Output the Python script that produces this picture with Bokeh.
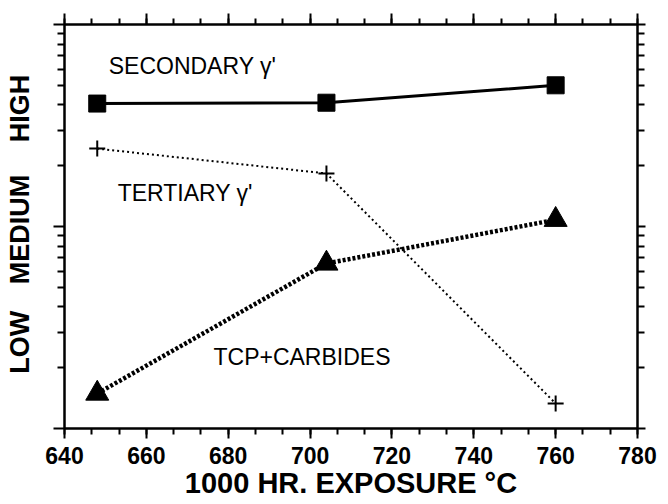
import math
from bokeh.plotting import figure
from bokeh.models import (LinearAxis, LogAxis, FixedTicker, SingleIntervalTicker,
                          CustomJSTickFormatter)
from bokeh.core.properties import value
from bokeh.embed import file_html
from bokeh.resources import INLINE

# ---- data ----
temps = [648, 704, 760]
secondary = [40.6, 41.0, 50.0]
tertiary = [24.3, 18.3, 1.33]
tcp = [1.49, 6.56, 10.8]

level_names = ["LOW", "MEDIUM", "HIGH"]
level_pos = [2.67, 9.67, 38.4]

label_text = ["SECONDARY \u03b3'", "TERTIARY \u03b3'", "TCP+CARBIDES"]
label_x = [650.8, 653.0, 676.4]
label_y = [62.0, 14.6, 2.27]

x_major = 20
y_major = [1, 10, 100]
y_minor = [m * 10 ** e for e in (0, 1) for m in range(2, 10)]

FONT = "Liberation Sans"

p = figure(width=668, height=504, x_range=(640, 780), y_range=(1, 100),
           y_axis_type="log", output_backend="svg", toolbar_location=None,
           min_border_left=64, min_border_top=24, min_border_right=31,
           min_border_bottom=76)
p.grid.visible = False
p.outline_line_color = "black"
p.outline_line_width = 2
p.background_fill_color = "white"

xt = SingleIntervalTicker(interval=x_major, num_minor_ticks=3)
yt = FixedTicker(ticks=y_major, minor_ticks=y_minor)
blank = CustomJSTickFormatter(code="return ''")


def style(ax, major_out, minor_out):
    ax.axis_line_width = 2
    ax.axis_line_color = "black"
    ax.major_tick_line_width = 2
    ax.minor_tick_line_width = 2
    ax.major_tick_line_color = "black"
    ax.minor_tick_line_color = "black"
    ax.major_tick_in = 0
    ax.minor_tick_in = 0
    ax.major_tick_out = major_out
    ax.minor_tick_out = minor_out


# bottom axis
xa = p.xaxis[0]
xa.ticker = xt
style(xa, 10, 6)
xa.axis_label = "1000 HR. EXPOSURE \u00b0C"
xa.axis_label_text_font = FONT
xa.axis_label_text_font_style = "bold"
xa.axis_label_text_font_size = "29px"
xa.axis_label_text_color = "black"
xa.axis_label_standoff = 0
xa.major_label_text_font = FONT
xa.major_label_text_font_style = "bold"
xa.major_label_text_font_size = "23px"
xa.major_label_text_color = "black"
xa.major_label_standoff = 8

# left log axis (ticks only)
ya = p.yaxis[0]
ya.ticker = yt
ya.formatter = blank
ya.major_label_standoff = 0
style(ya, 11, 7)

# level names axis
lev = LogAxis(ticker=FixedTicker(ticks=level_pos),
              formatter=CustomJSTickFormatter(
                  args=dict(names=level_names),
                  code="return names[index]"),
              axis_line_color=None, major_tick_line_color=None,
              minor_tick_line_color=None,
              major_label_orientation="parallel",
              major_label_standoff=12,
              major_label_text_font=FONT,
              major_label_text_font_style="bold",
              major_label_text_color="black",
              major_label_text_font_size="27px")
p.add_layout(lev, "left")

# top axis
top = LinearAxis(ticker=xt, formatter=blank, major_label_standoff=0)
style(top, 11, 6)
p.add_layout(top, "above")

# right axis
right = LogAxis(ticker=yt, formatter=blank, major_label_standoff=0)
style(right, 8, 7)
p.add_layout(right, "right")

# series
p.line(temps, tcp, line_width=4.5, line_dash="3 2", color="black")
p.scatter(temps, tcp, marker="triangle", size=23, color="black")

p.line(temps, tertiary, line_width=2, line_dash="2 3", color="black")
p.scatter(temps, tertiary, marker="cross", size=16, line_width=2, color="black")

p.line(temps, secondary, line_width=3, color="black")
p.scatter(temps, secondary, marker="square", size=17, color="black")

p.text(x=label_x, y=label_y, text=label_text, text_font=value(FONT),
       text_font_size="23px", text_baseline="middle", text_align="left",
       text_color="black")

open("out.html", "w").write(file_html(p, INLINE))
